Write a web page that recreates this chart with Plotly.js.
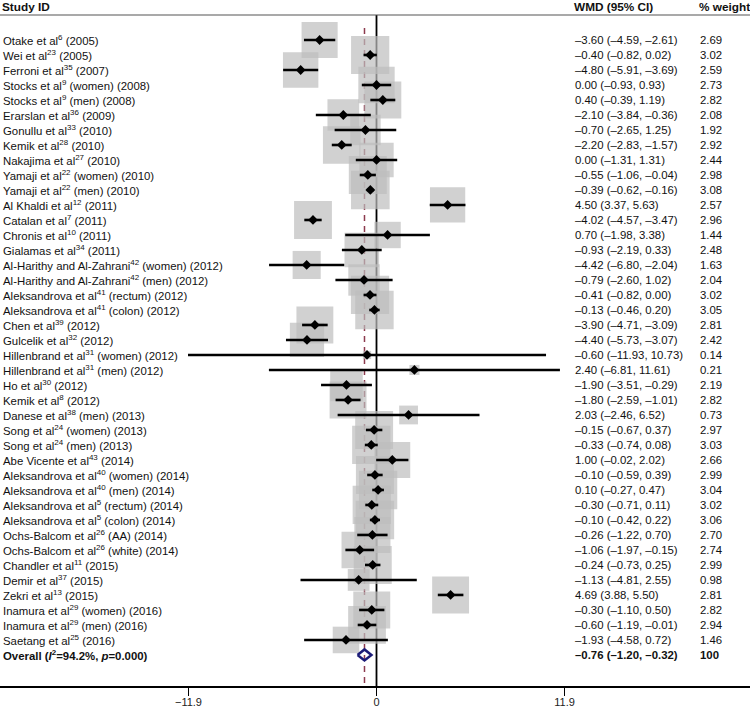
<!DOCTYPE html>
<html>
<head>
<meta charset="utf-8">
<script src="https://cdn.plot.ly/plotly-3.0.1.min.js"></script>
<style>html,body{margin:0;padding:0;background:#fff;}#chart{width:750px;height:710px;}</style>
</head>
<body>
<div id="chart"></div>
<script>
const studies = [
  "Otake et al<sup>6</sup> (2005)",
  "Wei et al<sup>23</sup> (2005)",
  "Ferroni et al<sup>35</sup> (2007)",
  "Stocks et al<sup>9</sup> (women) (2008)",
  "Stocks et al<sup>9</sup> (men) (2008)",
  "Erarslan et al<sup>36</sup> (2009)",
  "Gonullu et al<sup>33</sup> (2010)",
  "Kemik et al<sup>28</sup> (2010)",
  "Nakajima et al<sup>27</sup> (2010)",
  "Yamaji et al<sup>22</sup> (women) (2010)",
  "Yamaji et al<sup>22</sup> (men) (2010)",
  "Al Khaldi et al<sup>12</sup> (2011)",
  "Catalan et al<sup>7</sup> (2011)",
  "Chronis et al<sup>10</sup> (2011)",
  "Gialamas et al<sup>34</sup> (2011)",
  "Al-Harithy and Al-Zahrani<sup>42</sup> (women) (2012)",
  "Al-Harithy and Al-Zahrani<sup>42</sup> (men) (2012)",
  "Aleksandrova et al<sup>41</sup> (rectum) (2012)",
  "Aleksandrova et al<sup>41</sup> (colon) (2012)",
  "Chen et al<sup>39</sup> (2012)",
  "Gulcelik et al<sup>32</sup> (2012)",
  "Hillenbrand et al<sup>31</sup> (women) (2012)",
  "Hillenbrand et al<sup>31</sup> (men) (2012)",
  "Ho et al<sup>30</sup> (2012)",
  "Kemik et al<sup>8</sup> (2012)",
  "Danese et al<sup>38</sup> (men) (2013)",
  "Song et al<sup>24</sup> (women) (2013)",
  "Song et al<sup>24</sup> (men) (2013)",
  "Abe Vicente et al<sup>43</sup> (2014)",
  "Aleksandrova et al<sup>40</sup> (women) (2014)",
  "Aleksandrova et al<sup>40</sup> (men) (2014)",
  "Aleksandrova et al<sup>5</sup> (rectum) (2014)",
  "Aleksandrova et al<sup>5</sup> (colon) (2014)",
  "Ochs-Balcom et al<sup>26</sup> (AA) (2014)",
  "Ochs-Balcom et al<sup>26</sup> (white) (2014)",
  "Chandler et al<sup>11</sup> (2015)",
  "Demir et al<sup>37</sup> (2015)",
  "Zekri et al<sup>13</sup> (2015)",
  "Inamura et al<sup>29</sup> (women) (2016)",
  "Inamura et al<sup>29</sup> (men) (2016)",
  "Saetang et al<sup>25</sup> (2016)"
];
const wmd = [-3.60,-0.40,-4.80,0.00,0.40,-2.10,-0.70,-2.20,0.00,-0.55,-0.39,4.50,-4.02,0.70,-0.93,-4.42,-0.79,-0.41,-0.13,-3.90,-4.40,-0.60,2.40,-1.90,-1.80,2.03,-0.15,-0.33,1.00,-0.10,0.10,-0.30,-0.10,-0.26,-1.06,-0.24,-1.13,4.69,-0.30,-0.60,-1.93];
const ciLow = [-4.59,-0.82,-5.91,-0.93,-0.39,-3.84,-2.65,-2.83,-1.31,-1.06,-0.62,3.37,-4.57,-1.98,-2.19,-6.80,-2.60,-0.82,-0.46,-4.71,-5.73,-11.93,-6.81,-3.51,-2.59,-2.46,-0.67,-0.74,-0.02,-0.59,-0.27,-0.71,-0.42,-1.22,-1.97,-0.73,-4.81,3.88,-1.10,-1.19,-4.58];
const ciHigh = [-2.61,0.02,-3.69,0.93,1.19,-0.36,1.25,-1.57,1.31,-0.04,-0.16,5.63,-3.47,3.38,0.33,-2.04,1.02,0.00,0.20,-3.09,-3.07,10.73,11.61,-0.29,-1.01,6.52,0.37,0.08,2.02,0.39,0.47,0.11,0.22,0.70,-0.15,0.25,2.55,5.50,0.50,-0.01,0.72];
const weights = [2.69,3.02,2.59,2.73,2.82,2.08,1.92,2.92,2.44,2.98,3.08,2.57,2.96,1.44,2.48,1.63,2.04,3.02,3.05,2.81,2.42,0.14,0.21,2.19,2.82,0.73,2.97,3.03,2.66,2.99,3.04,3.02,3.06,2.70,2.74,2.99,0.98,2.81,2.82,2.94,1.46];
const overallLabel = "<b>Overall (<i>I</i><sup>2</sup>=94.2%, <i>p</i>=0.000)</b>";
const overallWmd = -0.76, overallLow = -1.20, overallHigh = -0.32, overallWeight = "100";
const tickVals = [-11.9, 0, 11.9];
const tickText = ["\u221211.9", "0", "11.9"];

const n = studies.length;
const rows = studies.map((s, i) => i + 1);
const overallRow = n + 1;

function f(v) { return (v < 0 ? "\u2013" : "") + Math.abs(v).toFixed(2); }

const FONT = "Liberation Sans, Arial, sans-serif";
const fs = 11.4;

const cx = [], cy = [];
for (let i = 0; i < n; i++) { cx.push(ciLow[i], ciHigh[i], null); cy.push(rows[i], rows[i], null); }

const traces = [
  { type: "scatter", mode: "markers", x: wmd, y: rows, hoverinfo: "skip",
    marker: { symbol: "square", color: "#bebebe", size: weights.map(w => 22 * Math.sqrt(w)), line: { width: 0 } } },
  { type: "scatter", mode: "lines", x: cx, y: cy, hoverinfo: "skip",
    line: { color: "#000", width: 2.6 } },
  { type: "scatter", mode: "markers", x: wmd, y: rows, hoverinfo: "skip",
    marker: { symbol: "diamond", color: "#000", size: 7.5, line: { width: 0 } } },
  { type: "scatter", mode: "lines", hoverinfo: "skip",
    x: [overallLow, overallWmd, overallHigh, overallWmd, overallLow],
    y: [overallRow, overallRow - 0.37, overallRow, overallRow + 0.37, overallRow],
    line: { color: "#1c1c78", width: 2.5 } }
];

const yTop = -0.667, yBot = 44.07;
const xL = -23.83, xR = 23.64;

const ann = [];
const colWmd = 0.764, colW = 0.9305;
for (let i = 0; i < n; i++) {
  ann.push({ xref: "paper", yref: "y", x: 0.001, y: rows[i], xanchor: "left", yanchor: "middle", showarrow: false, text: studies[i], font: { family: FONT, size: fs, color: "#111" } });
  ann.push({ xref: "paper", yref: "y", x: colWmd, y: rows[i], xanchor: "left", yanchor: "middle", showarrow: false, text: f(wmd[i]) + " (" + f(ciLow[i]) + ", " + f(ciHigh[i]) + ")", font: { family: FONT, size: fs, color: "#111" } });
  ann.push({ xref: "paper", yref: "y", x: colW, y: rows[i], xanchor: "left", yanchor: "middle", showarrow: false, text: weights[i].toFixed(2), font: { family: FONT, size: fs, color: "#111" } });
}
ann.push({ xref: "paper", yref: "y", x: 0.001, y: overallRow, xanchor: "left", yanchor: "middle", showarrow: false, text: overallLabel, font: { family: FONT, size: fs, color: "#111" } });
ann.push({ xref: "paper", yref: "y", x: colWmd, y: overallRow, xanchor: "left", yanchor: "middle", showarrow: false, text: "<b>" + f(overallWmd) + " (" + f(overallLow) + ", " + f(overallHigh) + ")</b>", font: { family: FONT, size: fs, color: "#111" } });
ann.push({ xref: "paper", yref: "y", x: colW, y: overallRow, xanchor: "left", yanchor: "middle", showarrow: false, text: "<b>" + overallWeight + "</b>", font: { family: FONT, size: fs, color: "#111" } });
const hy = 1 + 8 / 671;
const hdr = [["<b>Study ID</b>", 0.001], ["<b>WMD (95% CI)</b>", colWmd], ["<b>% weight</b>", colW]];
hdr.forEach(h => ann.push({ xref: "paper", yref: "paper", x: h[1], y: hy, xanchor: "left", yanchor: "middle", borderpad: 0, showarrow: false, text: h[0], font: { family: FONT, size: 11.8, color: "#111" } }));

const shapes = [
  { type: "line", layer: "above", xref: "paper", yref: "paper", x0: 0, x1: 1, y0: 1, y1: 1, line: { color: "#555", width: 1.2 } },
  { type: "line", layer: "below", xref: "x", yref: "y", x0: 0, x1: 0, y0: yTop, y1: yBot, line: { color: "#000", width: 1.8 } },
  { type: "line", layer: "below", xref: "x", yref: "y", x0: overallWmd, x1: overallWmd, y0: 0.2, y1: yBot, line: { color: "#8c3a4e", width: 1.5, dash: "6px,5px" } }
];

const layout = {
  width: 750, height: 710,
  margin: { l: 0, r: 0, t: 15, b: 24, pad: 0 },
  paper_bgcolor: "#fff", plot_bgcolor: "#fff",
  showlegend: false,
  xaxis: { range: [xL, xR], showgrid: false, zeroline: false, showline: true, linecolor: "#000", linewidth: 1.5,
           ticks: "outside", ticklen: 8, tickwidth: 1.5, tickcolor: "#000", ticklabelstandoff: -3,
           tickvals: tickVals, ticktext: tickText, tickfont: { family: FONT, size: 11, color: "#222" } },
  yaxis: { range: [yBot, yTop], showgrid: false, zeroline: false, showline: false, showticklabels: false, ticks: "" },
  annotations: ann,
  shapes: shapes
};

Plotly.newPlot("chart", traces, layout, { staticPlot: true, displayModeBar: false });
</script>
</body>
</html>
